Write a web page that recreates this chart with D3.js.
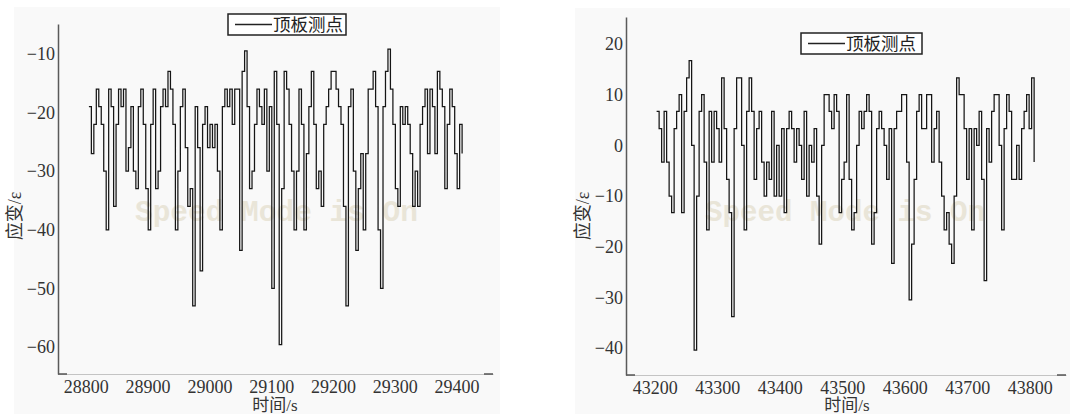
<!DOCTYPE html>
<html>
<head>
<meta charset="utf-8">
<script src="https://cdn.jsdelivr.net/npm/d3@7"></script>
<style>
  html, body { margin: 0; padding: 0; background: #ffffff; }
  svg { display: block; }
</style>
</head>
<body>
<svg id="chart" width="1070" height="418"></svg>
<script>
// ---------------- data ----------------
const legendLabel = "顶板测点";
const xTitle = "时间/s";
const yTitle = "应变/ε";
const watermark = "Speed Mode is On";
const sampleStep = 4; // seconds between samples

// left panel
const leftStart = 28805;
const leftXTicks = [28800, 28900, 29000, 29100, 29200, 29300, 29400];
const leftYTicks = [-60, -50, -40, -30, -20, -10];
const leftXDomain = [28755, 29459];
const leftYDomain = [-64.6, -4.9];
const leftValues = [
  -19, -27, -22, -16, -19, -22, -30, -40, -16, -19,
  -36, -22, -16, -19, -16, -30, -26, -19, -30, -33,
  -19, -16, -22, -33, -40, -22, -16, -33, -30, -19,
  -16, -19, -13, -16, -22, -40, -30, -19, -16, -26,
  -36, -33, -53, -19, -26, -47, -22, -19, -26, -22,
  -26, -22, -30, -40, -19, -16, -19, -16, -22, -16,
  -16, -43.5, -13, -9.5, -19, -33, -30, -22, -16, -19,
  -22, -16, -30, -19, -50, -13, -22, -59.6, -33, -13,
  -16, -22, -30, -40, -30, -16, -22, -40, -27, -19,
  -13, -22, -33, -30, -36, -22, -19, -16, -13, -13,
  -16, -19, -22, -36, -53, -19, -16, -30, -43.5, -33,
  -27, -40, -27, -16, -16, -13, -19, -40, -50, -19,
  -13, -9.2, -16, -22, -33, -36, -19, -22, -19, -22,
  -27, -36, -30, -36, -22, -19, -16, -27, -16, -19,
  -27, -13, -16, -19, -33, -22, -16, -19, -27, -33,
  -22, -27
];

// right panel
const rightStart = 43203;
const rightXTicks = [43200, 43300, 43400, 43500, 43600, 43700, 43800];
const rightYTicks = [-40, -30, -20, -10, 0, 10, 20];
const rightXDomain = [43154, 43858];
const rightYDomain = [-45.3, 25.3];
const rightValues = [
  6.7, 3.3, -3.3, 6.7, -3.3, -10, -13.3, 3.3, 6.7, 10,
  -13.3, 6.7, 13.3, 16.7, 0, -40.4, -10, 6.7, 10, -3.3,
  -16.7, 6.7, -3.3, 6.7, 3.3, -3.3, 13.3, 3.3, -6.7, -13.3,
  -33.8, 3.3, 13.3, 13.3, 0, -16.7, 6.7, 13.3, 6.7, -6.7,
  3.3, 6.7, -3.3, -10, -3.3, -6.7, 6.7, -10, 0, -10,
  3.3, -13.3, 3.3, 6.7, 3.3, -3.3, 3.3, 0, -6.7, 6.7,
  -10, 0, -3.3, 3.3, -10, -19.5, 0, 10, 10, 6.7,
  3.3, 10, 6.7, -13.3, -6.7, -3.3, 10, -6.7, -16.7, -13.3,
  0, 6.7, 3.3, 6.7, 10, 6.7, -19.5, -13.3, 3.3, 6.7,
  3.3, 0, -6.7, 3.3, -23.3, 3.3, 6.7, 6.7, 10, 10,
  -3.3, -30.5, -19.5, -6.7, 6.7, 10, 3.3, 3.3, 10, 10,
  -3.3, 3.3, 6.7, -3.3, -10, -16.7, -13.3, -19.5, -23.3, -10,
  13.3, 10, 10, 3.3, -6.7, 3.3, -16.7, 3.3, 0, 6.7,
  -6.7, -26.7, 3.3, -3.3, 6.7, 10, 10, 0, -16.7, 3.3,
  10, 6.7, -6.7, -6.7, 0, -6.7, 3.3, 6.7, 10, 3.3,
  13.3, -3.3
];

// ---------------- drawing ----------------
const svg = d3.select("#chart");
svg.append("rect").attr("width", 1070).attr("height", 418).attr("fill", "#ffffff");

const serif = "'Liberation Serif', 'Noto Sans CJK SC', serif";

function drawPanel(cfg) {
  const g = svg.append("g");
  // panel background
  g.append("rect")
    .attr("x", cfg.bg[0]).attr("y", cfg.bg[1])
    .attr("width", cfg.bg[2]).attr("height", cfg.bg[3])
    .attr("fill", "#f9f9f9");

  const x = d3.scaleLinear().domain(cfg.xDomain).range(cfg.xRange);
  const y = d3.scaleLinear().domain(cfg.yDomain).range(cfg.yRange);

  // watermark
  g.append("text")
    .attr("x", cfg.wm[0]).attr("y", cfg.wm[1])
    .attr("textLength", cfg.wm[2]).attr("lengthAdjust", "spacingAndGlyphs")
    .attr("font-family", "'Liberation Mono', monospace")
    .attr("font-weight", "bold")
    .attr("font-size", 29)
    .attr("fill", "#e9e5d8")
    .text(watermark);

  // data
  const data = cfg.values.map((v, i) => ({ t: cfg.start + i * sampleStep, v }));
  const line = d3.line().x(d => x(d.t)).y(d => y(d.v)).curve(d3.curveStepAfter);
  g.append("path")
    .datum(data)
    .attr("d", line)
    .attr("fill", "none")
    .attr("stroke", "#161616")
    .attr("stroke-width", 1.25);

  // x axis
  const xAxis = d3.axisBottom(x).tickValues(cfg.xTicks).tickSize(0).tickSizeOuter(0)
    .tickPadding(6).tickFormat(d3.format("d"));
  const gx = g.append("g").attr("transform", `translate(0,${cfg.yRange[0]})`).call(xAxis);
  gx.select(".domain").attr("stroke", "#c4c4c4").attr("stroke-width", 1.2);
  gx.selectAll("text").attr("font-family", serif).attr("font-size", 18).attr("fill", "#333");
  // darker ends of x axis
  g.append("line")
    .attr("x1", cfg.xRange[0]).attr("x2", cfg.xRange[0] + 9)
    .attr("y1", cfg.yRange[0]).attr("y2", cfg.yRange[0])
    .attr("stroke", "#555").attr("stroke-width", 1.5);
  g.append("line")
    .attr("x1", cfg.xRange[1] - 9).attr("x2", cfg.xRange[1])
    .attr("y1", cfg.yRange[0]).attr("y2", cfg.yRange[0])
    .attr("stroke", "#555").attr("stroke-width", 1.5);

  // y axis
  const yAxis = d3.axisLeft(y).tickValues(cfg.yTicks).tickSize(0).tickSizeOuter(0).tickPadding(3);
  const gy = g.append("g").attr("transform", `translate(${cfg.xRange[0]},0)`).call(yAxis);
  gy.select(".domain").attr("stroke", "#5a5a5a").attr("stroke-width", 1.5);
  gy.selectAll("text").attr("font-family", serif).attr("font-size", 18).attr("fill", "#333");

  // axis titles
  g.append("text")
    .attr("x", cfg.xTitlePos[0]).attr("y", cfg.xTitlePos[1])
    .attr("text-anchor", "middle")
    .attr("font-family", serif).attr("font-size", 17).attr("fill", "#333")
    .text(xTitle);
  g.append("text")
    .attr("transform", `translate(${cfg.yTitlePos[0]},${cfg.yTitlePos[1]}) rotate(-90)`)
    .attr("text-anchor", "middle")
    .attr("font-family", serif).attr("font-size", 18).attr("fill", "#333")
    .text(yTitle);

  // legend
  const lg = g.append("g").attr("transform", `translate(${cfg.legend[0]},${cfg.legend[1]})`);
  lg.append("rect").attr("x", 0).attr("y", 0).attr("width", cfg.legend[2]).attr("height", 21)
    .attr("fill", "#ffffff").attr("stroke", "#222").attr("stroke-width", 1.5);
  lg.append("line").attr("x1", 7).attr("x2", 44).attr("y1", 10.5).attr("y2", 10.5)
    .attr("stroke", "#222").attr("stroke-width", 1.3);
  lg.append("text").attr("x", 45).attr("y", 17)
    .attr("font-family", "'Noto Sans CJK SC', sans-serif").attr("font-size", 17.5)
    .attr("fill", "#222")
    .text(legendLabel);
}

drawPanel({
  bg: [14, 7, 486, 407],
  xDomain: leftXDomain, yDomain: leftYDomain,
  xRange: [58, 493], yRange: [374, 24],
  xTicks: leftXTicks, yTicks: leftYTicks,
  start: leftStart, values: leftValues,
  wm: [135, 221, 283],
  xTitlePos: [275, 411],
  yTitlePos: [21, 216],
  legend: [228, 14, 118]
});

drawPanel({
  bg: [575, 8, 495, 406],
  xDomain: rightXDomain, yDomain: rightYDomain,
  xRange: [626, 1066], yRange: [375, 17],
  xTicks: rightXTicks, yTicks: rightYTicks,
  start: rightStart, values: rightValues,
  wm: [705, 221, 280],
  xTitlePos: [847, 411],
  yTitlePos: [589, 216],
  legend: [801, 33, 121]
});
</script>
</body>
</html>
